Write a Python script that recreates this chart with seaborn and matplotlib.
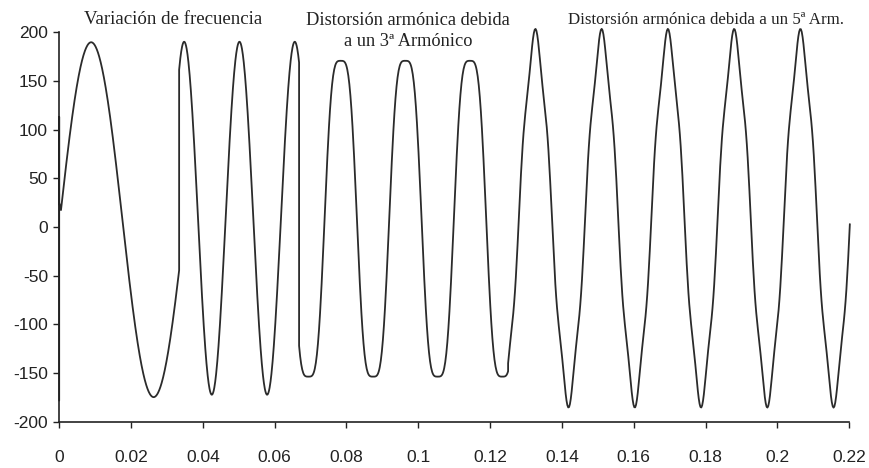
import numpy as np
import pandas as pd
import matplotlib
matplotlib.use("Agg")
import matplotlib.pyplot as plt
import seaborn as sns

# ============================================
# Datos
# ============================================
# cada tramo de la senal: inicio, fin, periodo, instante de un maximo,
# amplitud, nivel medio, orden del armonico y su proporcion
seg_start = [0.0005, 0.0334, 0.0668, 0.1250]
seg_end = [0.0334, 0.0668, 0.1250, 0.2204]
seg_period = [0.0348, 0.0154, 0.0180, 0.01845]
seg_peak_at = [0.0089, 0.0348, 0.0784, 0.1326]
seg_amp = [182, 181, 182, 185]
seg_offset = [7.5, 9, 8.5, 9]
seg_harm_order = [1, 1, 3, 5]
seg_harm_ratio = [0.0, 0.0, -0.11, 0.05]

# transitorio al arrancar en t = 0
start_t = [0.0, 0.0, 0.0]
start_v = [-178, 113, 25]

annotations = [
    "Variación de frecuencia",
    "Distorsión armónica debida",
    "a un 3ª Armónico",
    "Distorsión armónica debida a un 5ª Arm.",
]

x_ticks = [0, 0.02, 0.04, 0.06, 0.08, 0.1, 0.12, 0.14, 0.16, 0.18, 0.2, 0.22]
x_tick_labels = ["0", "0.02", "0.04", "0.06", "0.08", "0.1", "0.12",
                 "0.14", "0.16", "0.18", "0.2", "0.22"]
y_ticks = [-200, -150, -100, -50, 0, 50, 100, 150, 200]
y_tick_labels = ["-200", "-150", "-100", "-50", "0", "50", "100", "150", "200"]

# ============================================
# Construccion de la senal
# ============================================
t_parts = [np.array(start_t, dtype=float)]
v_parts = [np.array(start_v, dtype=float)]
for i in range(len(seg_start)):
    t = np.linspace(seg_start[i], seg_end[i], 400)
    th = 2 * np.pi * (t - seg_peak_at[i]) / seg_period[i]
    v = seg_offset[i] + seg_amp[i] * (np.cos(th) + seg_harm_ratio[i] * np.cos(seg_harm_order[i] * th))
    t_parts.append(t)
    v_parts.append(v)

df = pd.DataFrame({"t": np.concatenate(t_parts), "v": np.concatenate(v_parts)})

# ============================================
# Grafico
# ============================================
sns.set_style("ticks")
plt.rcParams["font.family"] = ["Liberation Sans", "DejaVu Sans"]

fig = plt.figure(figsize=(8.69, 4.68), dpi=100)
ax = fig.add_axes([0.0681, 0.0983, 0.9092, 0.8333])

sns.lineplot(data=df, x="t", y="v", ax=ax, sort=False, estimator=None,
             color="#2b2b2b", linewidth=1.3)
for ln in ax.lines:
    ln.set_clip_on(False)

ax.set_xlim(0, 0.22)
ax.set_ylim(-200, 200)
ax.set_xticks(x_ticks)
ax.set_xticklabels(x_tick_labels)
ax.set_yticks(y_ticks)
ax.set_yticklabels(y_tick_labels)
ax.set_xlabel("")
ax.set_ylabel("")
ax.tick_params(axis="x", length=4, width=1, pad=16, labelsize=12.5, colors="#222222")
ax.tick_params(axis="y", length=4, width=1, pad=4, labelsize=12.5, colors="#222222")
sns.despine(ax=ax)
for s in ["left", "bottom"]:
    ax.spines[s].set_linewidth(1.2)
    ax.spines[s].set_color("#222222")

W, H = 869, 468
serif = ["Liberation Serif", "DejaVu Serif"]
fig.text(173.5 / W, 1 - 24.5 / H, annotations[0], ha="center", va="baseline",
         family=serif, fontsize=13.6, color="#222222")
fig.text(408 / W, 1 - 25 / H, annotations[1], ha="center", va="baseline",
         family=serif, fontsize=13.2, color="#222222")
fig.text(408 / W, 1 - 46 / H, annotations[2], ha="center", va="baseline",
         family=serif, fontsize=13.2, color="#222222")
fig.text(706 / W, 1 - 24 / H, annotations[3], ha="center", va="baseline",
         family=serif, fontsize=12.2, color="#222222")

fig.savefig("out.png", dpi=100)
